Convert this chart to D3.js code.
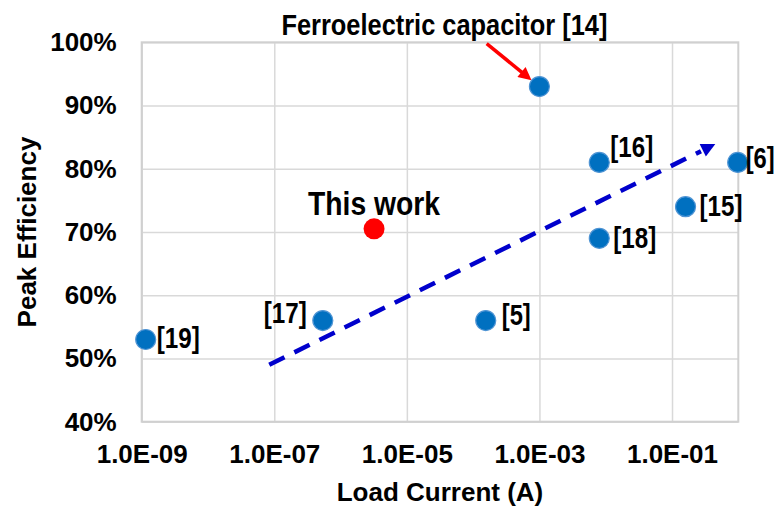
<!DOCTYPE html>
<html>
<head>
<meta charset="utf-8">
<script src="https://cdn.jsdelivr.net/npm/d3@7"></script>
<style>
  html, body { margin: 0; padding: 0; background: #fff; }
  svg { display: block; }
  .tick text { font-family: 'Liberation Sans', Arial, sans-serif; font-weight: bold; font-size: 26px; fill: #000; }
</style>
</head>
<body>
<svg id="chart" width="781" height="508"></svg>
<script>
// Published converters: reference tag, load current (A), peak efficiency (%)
const refTags     = ["[19]", "[17]", "[5]", "[14]", "[16]", "[18]", "[15]", "[6]"];
const loadCurrent = [1.15e-9, 5.4e-7, 1.55e-4, 1.0e-3, 8.0e-3, 8.0e-3, 0.16, 0.98];
const peakEff     = [53, 56, 56, 93, 81, 69, 74, 81];

// This work
const thisWorkCurrent = 3.2e-6;
const thisWorkEff = 70.5;

// Trend arrow (current, efficiency) start and end
const trendCurrent = [8.4e-8, 0.45];
const trendEff     = [49, 83.9];

// Pointer arrow to the ferroelectric design
const pointerCurrent = [1.6e-4, 7.6e-4];
const pointerEff     = [99.8, 94.0];

// Axis ticks
const xTickValues = [1e-9, 1e-7, 1e-5, 1e-3, 1e-1];
const xTickLabels = ["1.0E-09", "1.0E-07", "1.0E-05", "1.0E-03", "1.0E-01"];
const yTickValues = [40, 50, 60, 70, 80, 90, 100];
const yTickLabels = ["40%", "50%", "60%", "70%", "80%", "90%", "100%"];

const svg = d3.select("#chart");
const plotLeft = 141.7, plotRight = 738.3, plotTop = 42.3, plotBottom = 421.7;

const x = d3.scaleLog().domain([1e-9, 1]).range([plotLeft, plotRight]);
const y = d3.scaleLinear().domain([40, 100]).range([plotBottom, plotTop]);

const gridColor = "#d9d9d9";

// X axis with vertical gridlines
const xAxis = d3.axisBottom(x)
  .tickValues(xTickValues)
  .tickFormat((d, i) => xTickLabels[i])
  .tickSizeInner(-(plotBottom - plotTop))
  .tickSizeOuter(0)
  .tickPadding(23);
const gx = svg.append("g").attr("transform", `translate(0,${plotBottom})`).call(xAxis);
gx.select(".domain").remove();
gx.selectAll(".tick line").attr("stroke", gridColor).attr("stroke-width", 1.5);

// Y axis with horizontal gridlines
const yAxis = d3.axisLeft(y)
  .tickValues(yTickValues)
  .tickFormat((d, i) => yTickLabels[i])
  .tickSizeInner(-(plotRight - plotLeft))
  .tickSizeOuter(0)
  .tickPadding(25);
const gy = svg.append("g").attr("transform", `translate(${plotLeft},0)`).call(yAxis);
gy.select(".domain").remove();
gy.selectAll(".tick line").attr("stroke", gridColor).attr("stroke-width", 1.5);

// Plot area border
svg.append("rect")
  .attr("x", plotLeft).attr("y", plotTop)
  .attr("width", plotRight - plotLeft).attr("height", plotBottom - plotTop)
  .attr("fill", "none").attr("stroke", "#d0d0d0").attr("stroke-width", 2);

// Axis titles
svg.append("text")
  .attr("x", (plotLeft + plotRight) / 2).attr("y", 501)
  .attr("text-anchor", "middle")
  .style("font-family", "'Liberation Sans', Arial, sans-serif")
  .style("font-weight", "bold").style("font-size", "26px")
  .text("Load Current (A)");

svg.append("text")
  .attr("transform", `translate(36,${(plotTop + plotBottom) / 2}) rotate(-90)`)
  .attr("text-anchor", "middle")
  .style("font-family", "'Liberation Sans', Arial, sans-serif")
  .style("font-weight", "bold").style("font-size", "26px")
  .text("Peak Efficiency");

// Arrow markers
const defs = svg.append("defs");
defs.append("marker")
  .attr("id", "blueHead").attr("viewBox", "0 0 10 10")
  .attr("refX", 10).attr("refY", 5)
  .attr("markerUnits", "userSpaceOnUse")
  .attr("markerWidth", 18).attr("markerHeight", 14)
  .attr("orient", "auto")
  .append("path").attr("d", "M0,0 L10,5 L0,10 Z").attr("fill", "#0000cc");
defs.append("marker")
  .attr("id", "redHead").attr("viewBox", "0 0 10 10")
  .attr("refX", 10).attr("refY", 5)
  .attr("markerUnits", "userSpaceOnUse")
  .attr("markerWidth", 15).attr("markerHeight", 13)
  .attr("orient", "auto")
  .append("path").attr("d", "M0,0 L10,5 L0,10 Z").attr("fill", "#ff0000");

// Trend arrow (dashed)
const tx0 = x(trendCurrent[0]), ty0 = y(trendEff[0]);
const tx1 = x(trendCurrent[1]), ty1 = y(trendEff[1]);
const tAng = Math.atan2(ty1 - ty0, tx1 - tx0);
const headLen = 16;
svg.append("line")
  .attr("x1", tx0).attr("y1", ty0)
  .attr("x2", tx1 - headLen * Math.cos(tAng)).attr("y2", ty1 - headLen * Math.sin(tAng))
  .attr("stroke", "#0000cc").attr("stroke-width", 4.5)
  .attr("stroke-dasharray", "17,11");
svg.append("line")
  .attr("x1", tx1 - (headLen + 1) * Math.cos(tAng)).attr("y1", ty1 - (headLen + 1) * Math.sin(tAng))
  .attr("x2", tx1).attr("y2", ty1)
  .attr("stroke", "none")
  .attr("marker-end", "url(#blueHead)");

// Pointer arrow (red)
const px0 = x(pointerCurrent[0]), py0 = y(pointerEff[0]);
const px1 = x(pointerCurrent[1]), py1 = y(pointerEff[1]);
const pAng = Math.atan2(py1 - py0, px1 - px0);
svg.append("line")
  .attr("x1", px0).attr("y1", py0)
  .attr("x2", px1 - 12 * Math.cos(pAng)).attr("y2", py1 - 12 * Math.sin(pAng))
  .attr("stroke", "#ff0000").attr("stroke-width", 3.5);
svg.append("line")
  .attr("x1", px1 - 14 * Math.cos(pAng)).attr("y1", py1 - 14 * Math.sin(pAng))
  .attr("x2", px1).attr("y2", py1)
  .attr("stroke", "none")
  .attr("marker-end", "url(#redHead)");

// Published designs
const points = refTags.map((tag, i) => ({ tag, current: loadCurrent[i], eff: peakEff[i] }));
svg.append("g").selectAll("circle")
  .data(points).join("circle")
  .attr("cx", d => x(d.current))
  .attr("cy", d => y(d.eff))
  .attr("r", 10)
  .attr("fill", "#0070c0")
  .attr("stroke", "#4f94d4").attr("stroke-width", 1.2);

// This work
svg.append("circle")
  .attr("cx", x(thisWorkCurrent)).attr("cy", y(thisWorkEff))
  .attr("r", 10.5).attr("fill", "#ff0000");

// Reference labels: placement offsets around each marker
const labelFont = "'Liberation Sans Narrow', 'Arial Narrow', 'Liberation Sans', Arial, sans-serif";
const labelPlacement = {
  "[19]": { dx: 11, dy: 9, anchor: "start" },
  "[17]": { dx: -16, dy: 2, anchor: "end" },
  "[5]":  { dx: 16, dy: 4, anchor: "start" },
  "[16]": { dx: 11, dy: -5, anchor: "start" },
  "[18]": { dx: 14, dy: 10, anchor: "start" },
  "[15]": { dx: 14, dy: 9, anchor: "start" },
  "[6]":  { dx: 8, dy: 6, anchor: "start" }
};
svg.append("g").selectAll("text")
  .data(points.filter(d => labelPlacement[d.tag]))
  .join("text")
  .attr("x", d => x(d.current) + labelPlacement[d.tag].dx)
  .attr("y", d => y(d.eff) + labelPlacement[d.tag].dy)
  .attr("text-anchor", d => labelPlacement[d.tag].anchor)
  .attr("textLength", d => d.tag.length === 4 ? 43 : 29)
  .attr("lengthAdjust", "spacingAndGlyphs")
  .style("font-family", labelFont)
  .style("font-weight", "bold").style("font-size", "30px")
  .text(d => d.tag);

// Callout for the ferroelectric design
const fe = points.find(d => d.tag === "[14]");
svg.append("text")
  .attr("x", x(fe.current) - 95).attr("y", y(fe.eff) - 52)
  .attr("text-anchor", "middle")
  .attr("textLength", 326)
  .attr("lengthAdjust", "spacingAndGlyphs")
  .style("font-family", labelFont)
  .style("font-weight", "bold").style("font-size", "29px")
  .text("Ferroelectric capacitor " + fe.tag);

svg.append("text")
  .attr("x", x(thisWorkCurrent)).attr("y", y(thisWorkEff) - 14)
  .attr("text-anchor", "middle")
  .attr("textLength", 132)
  .attr("lengthAdjust", "spacingAndGlyphs")
  .style("font-family", labelFont)
  .style("font-weight", "bold").style("font-size", "33px")
  .text("This work");
</script>
</body>
</html>
